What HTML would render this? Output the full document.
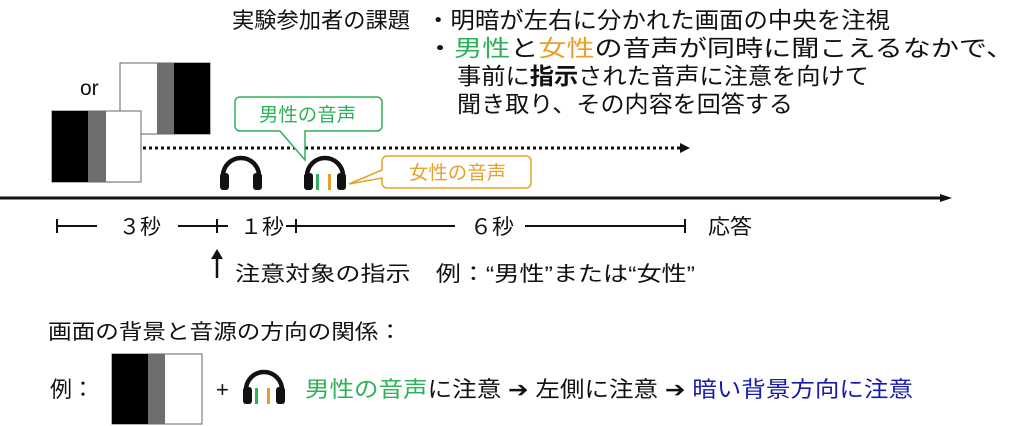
<!DOCTYPE html>
<html><head><meta charset="utf-8"><style>
html,body{margin:0;padding:0;background:#fff}
svg{display:block}
text{font-family:"Liberation Sans","Noto Sans CJK JP",sans-serif;fill:#111}
</style></head><body>
<svg width="1024" height="426" viewBox="0 0 1024 426" xmlns="http://www.w3.org/2000/svg">
<defs>
<g id="hp">
  <path d="M3 30 V20 A18 18 0 0 1 39 20 V30" fill="none" stroke="#111" stroke-width="4.5"/>
  <rect x="0" y="17" width="9" height="17" rx="3" fill="#111"/>
  <rect x="33" y="17" width="9" height="17" rx="3" fill="#111"/>
</g>
</defs>
<!-- header text -->
<text x="232" y="28" font-size="22" textLength="178" lengthAdjust="spacingAndGlyphs">実験参加者の課題</text>
<text x="426" y="28" font-size="23" textLength="464" lengthAdjust="spacingAndGlyphs">・明暗が左右に分かれた画面の中央を注視</text>
<text x="426" y="56" font-size="23" textLength="588" lengthAdjust="spacingAndGlyphs">・<tspan style="fill:#2fb05a">男性</tspan>と<tspan style="fill:#e8a02a">女性</tspan>の音声が同時に聞こえるなかで、</text>
<text x="457" y="84" font-size="23" textLength="412" lengthAdjust="spacingAndGlyphs">事前に<tspan font-weight="bold">指示</tspan>された音声に注意を向けて</text>
<text x="457" y="112" font-size="23" textLength="336" lengthAdjust="spacingAndGlyphs">聞き取り、その内容を回答する</text>
<!-- screens -->
<text x="80" y="95" font-size="21">or</text>
<rect x="120" y="63" width="90" height="71" fill="#fff" stroke="#666"/>
<rect x="157" y="63" width="17" height="71" fill="#6e6e6e"/>
<rect x="174" y="63" width="36" height="71" fill="#000"/>
<rect x="52" y="111" width="89" height="71" fill="#fff" stroke="#666"/>
<rect x="52" y="111" width="36" height="71" fill="#000"/>
<rect x="88" y="111" width="18" height="71" fill="#6e6e6e"/>
<!-- dotted arrow -->
<line x1="143" y1="148" x2="680" y2="148" stroke="#111" stroke-width="3" stroke-dasharray="3,3"/>
<polygon points="680,143 690,148 680,153" fill="#111"/>
<!-- bubbles -->
<path d="M240 97 H377 a5 5 0 0 1 5 5 V126 a5 5 0 0 1 -5 5 H305 L305 160 L280 131 H240 a5 5 0 0 1 -5 -5 V102 a5 5 0 0 1 5 -5 Z" fill="#fff" stroke="#2fb05a" stroke-width="1.5"/>
<text x="259" y="121" font-size="19" style="fill:#2fb05a" textLength="97" lengthAdjust="spacingAndGlyphs">男性の音声</text>
<path d="M387 156 H526 a5 5 0 0 1 5 5 V183 a5 5 0 0 1 -5 5 H387 a5 5 0 0 1 -5 -5 V178 L349 184 L382 170 V161 a5 5 0 0 1 5 -5 Z" fill="#fff" stroke="#e8a02a" stroke-width="1.5"/>
<text x="409" y="179" font-size="19" style="fill:#e8a02a" textLength="97" lengthAdjust="spacingAndGlyphs">女性の音声</text>
<!-- headphones -->
<use href="#hp" x="220" y="156"/>
<use href="#hp" x="304" y="156"/>
<rect x="316" y="174" width="3" height="16" fill="#2fb05a"/>
<rect x="328" y="174" width="3" height="16" fill="#e8a02a"/>
<!-- main line -->
<line x1="0" y1="198" x2="942" y2="198" stroke="#111" stroke-width="3"/>
<polygon points="940,194 952,198 940,202" fill="#111"/>
<!-- timeline -->
<g stroke="#111" stroke-width="2">
<line x1="57" y1="219" x2="57" y2="233"/><line x1="57" y1="226" x2="97" y2="226"/>
<line x1="178" y1="226" x2="228" y2="226"/><line x1="217" y1="219" x2="217" y2="233"/>
<line x1="286" y1="226" x2="455" y2="226"/><line x1="296" y1="219" x2="296" y2="233"/>
<line x1="525" y1="226" x2="685" y2="226"/><line x1="685" y1="219" x2="685" y2="233"/>
</g>
<text x="119" y="234" font-size="21" textLength="42" lengthAdjust="spacingAndGlyphs">３秒</text>
<text x="240" y="234" font-size="21" textLength="44" lengthAdjust="spacingAndGlyphs">１秒</text>
<text x="470" y="234" font-size="21" textLength="44" lengthAdjust="spacingAndGlyphs">６秒</text>
<text x="708" y="234" font-size="21" textLength="44" lengthAdjust="spacingAndGlyphs">応答</text>
<line x1="217" y1="278" x2="217" y2="256" stroke="#111" stroke-width="2.5"/>
<polygon points="211,259 217,249 223,259" fill="#111"/>
<text x="235" y="281" font-size="21" textLength="460" lengthAdjust="spacingAndGlyphs">注意対象の指示　例：“男性”または“女性”</text>
<!-- bottom -->
<text x="48" y="339" font-size="21" textLength="354" lengthAdjust="spacingAndGlyphs">画面の背景と音源の方向の関係：</text>
<text x="50" y="397" font-size="22">例：</text>
<rect x="112" y="354" width="90" height="70" fill="#fff" stroke="#666"/>
<rect x="112" y="354" width="36" height="70" fill="#000"/>
<rect x="148" y="354" width="17" height="70" fill="#6e6e6e"/>
<text x="216" y="397" font-size="22">+</text>
<use href="#hp" x="243" y="370"/>
<rect x="255" y="388" width="3" height="16" fill="#2fb05a"/>
<rect x="267" y="388" width="3" height="16" fill="#e8a02a"/>
<text x="305" y="397" font-size="22" textLength="608" lengthAdjust="spacingAndGlyphs"><tspan style="fill:#2fb05a">男性の音声</tspan>に注意 ➔ 左側に注意 ➔ <tspan style="fill:#1a1ab0">暗い背景方向に注意</tspan></text>
</svg>
</body></html>
